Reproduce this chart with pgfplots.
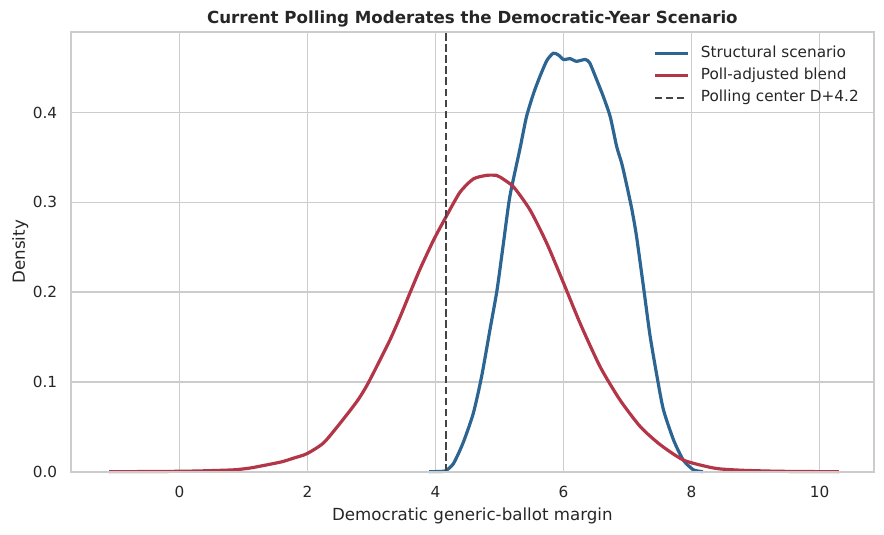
\documentclass[border=0pt]{standalone}
\usepackage{fontspec}
\setmainfont{DejaVu Sans}
\usepackage{pgfplots}
\pgfplotsset{compat=1.18}
\definecolor{sblue}{RGB}{44,101,146}
\definecolor{sred}{RGB}{178,54,72}
\definecolor{spine}{RGB}{204,204,204}
\definecolor{txt}{RGB}{38,38,38}
\definecolor{dgray}{RGB}{68,68,68}
\begin{document}
\begin{tikzpicture}
\path[use as bounding box] (-50.9bp,-44.9bp) rectangle (585.6bp,339.6bp);
\begin{axis}[
  name=main,
  at={(0,0)}, anchor=south west,
  scale only axis, width=578.4bp, height=316.6bp,
  xmin=-1.70, xmax=10.85, ymin=0, ymax=0.4897,
  clip=false,
  axis line style={draw=none},
  grid=major, major grid style={spine, line width=1bp},
  major tick length=0pt,
  xtick={0,2,4,6,8,10}, ytick={0,0.1,0.2,0.3,0.4},
  /pgf/number format/assume math mode=true,
  yticklabel style={/pgf/number format/fixed, /pgf/number format/fixed zerofill, /pgf/number format/precision=1},
  xticklabel style={font=\fontsize{11bp}{13bp}\selectfont, text=txt, anchor=base, yshift=-18.7bp, inner sep=0pt},
  yticklabel style={font=\fontsize{11bp}{13bp}\selectfont, text=txt, anchor=east, xshift=-9.6bp, inner sep=0pt},
  scaled y ticks=false,
  legend style={draw=none, fill=none, at={(rel axis cs:1,1)}, anchor=north east, xshift=-10.8bp, yshift=-7.2bp, inner sep=0pt,
    font=\fontsize{11bp}{13bp}\selectfont, text=txt,
    nodes={inner xsep=0pt, inner ysep=2.6bp, text height=8.2bp, text depth=2.6bp, anchor=west},
    /tikz/every odd column/.append style={column sep=8.4bp}},
  legend cell align=left,
  legend image code/.code={\draw[#1] (0bp,0bp) -- (23.8bp,0bp);},
]
\addplot[sblue, line width=2.3bp, smooth, tension=0.4] coordinates {
(3.9,0) (4.1,0.0002) (4.16,0.001) (4.28,0.009) (4.43,0.032) (4.59,0.065) (4.72,0.106)
(4.85,0.158) (4.96,0.202) (5.06,0.254) (5.16,0.306) (5.32,0.360) (5.42,0.395) (5.53,0.421)
(5.63,0.440) (5.74,0.458) (5.84,0.466) (5.92,0.464) (6.00,0.459) (6.10,0.460) (6.20,0.457)
(6.34,0.459) (6.41,0.455) (6.52,0.436) (6.62,0.418) (6.73,0.395) (6.83,0.362) (6.91,0.343)
(6.99,0.318) (7.07,0.291) (7.14,0.262) (7.25,0.205) (7.35,0.152) (7.46,0.106) (7.56,0.069)
(7.72,0.035) (7.87,0.013) (8.03,0.002) (8.18,0)
};
\addlegendentry{Structural scenario}
\addplot[sred, line width=2.3bp, smooth, tension=0.4] coordinates {
(-1.1,0) (-0.5,0.0001) (0.0,0.0004) (0.32,0.0008) (0.84,0.002) (1.1,0.004) (1.36,0.0075)
(1.6,0.011) (1.78,0.015) (1.99,0.020) (2.25,0.032) (2.51,0.054) (2.77,0.078) (2.92,0.095)
(3.08,0.117) (3.29,0.147) (3.45,0.173) (3.60,0.199) (3.76,0.226) (3.97,0.258) (4.15,0.282)
(4.38,0.311) (4.59,0.326) (4.80,0.330) (4.95,0.330) (5.01,0.328) (5.22,0.317) (5.48,0.291)
(5.74,0.254) (6.00,0.210) (6.26,0.165) (6.57,0.117) (6.88,0.080) (7.20,0.050) (7.51,0.030)
(7.87,0.013) (8.24,0.0056) (8.45,0.003) (8.8,0.0015) (9.3,0.0005) (9.8,0.0001) (10.3,0)
};
\addlegendentry{Poll-adjusted blend}
\addplot[dgray, line width=1.5bp, dash pattern=on 5.55bp off 2.4bp] coordinates {(4.16,0) (4.16,0.4897)};
\addlegendentry{Polling center D+4.2}
\node[font=\fontsize{12bp}{14bp}\selectfont\bfseries, text=txt, anchor=base, inner sep=0pt] at ([yshift=5.8bp]rel axis cs:0.5,1) {Current Polling Moderates the Democratic-Year Scenario};
\node[font=\fontsize{12bp}{14bp}\selectfont, text=txt, anchor=base, inner sep=0pt] at ([yshift=-35.3bp]rel axis cs:0.5,0) {Democratic generic-ballot margin};
\node[font=\fontsize{12bp}{14bp}\selectfont, text=txt, anchor=base, inner sep=0pt, rotate=90] at ([xshift=-33bp]rel axis cs:0,0.5) {Density};
\end{axis}
\draw[spine, line width=1.25bp] (main.south west) rectangle (main.north east);
\end{tikzpicture}
\end{document}
